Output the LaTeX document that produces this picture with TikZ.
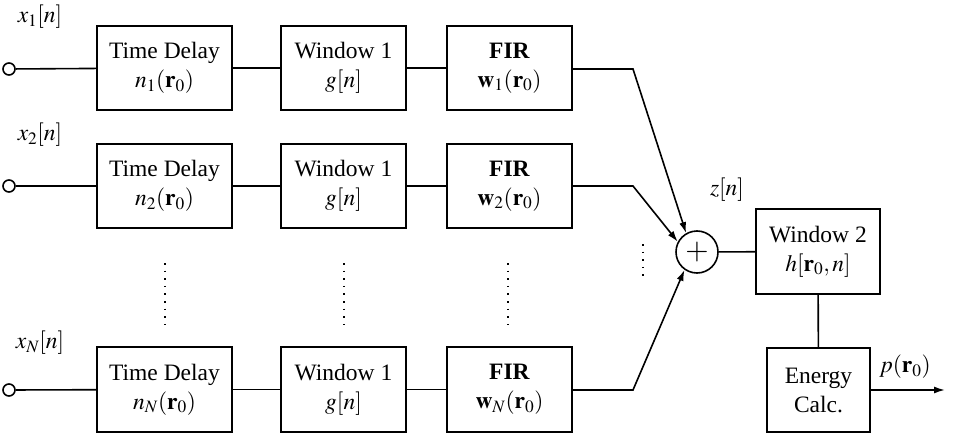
\documentclass[tikz,border=0pt]{standalone}
\usepackage{mathptmx}
\usepackage{fontspec}
\setmainfont{Liberation Serif}
\usetikzlibrary{arrows.meta}
\begin{document}
\begin{tikzpicture}[x=1pt,y=-1pt,
  every node/.style={font=\fontsize{23.5}{27}\selectfont},
  blk/.style={draw,line width=1.6pt,align=center,inner sep=0pt},
  wire/.style={line width=1.6pt},
  arr/.style={line width=1.6pt,-{Latex[length=11pt,width=7pt]}},
  port/.style={circle,draw,line width=1.6pt,minimum size=12pt,inner sep=0pt},
  dots/.style={line width=1.6pt,dash pattern=on 1.6pt off 6pt}]
\useasboundingbox (0,0) rectangle (961,436);
% row 1
\node[port] (i1) at (9,69) {};
\node (l1) at (40,17) {$x_1[n]$};
\node[blk,minimum width=135pt,minimum height=84pt] (d1) at (164.5,68) {Time Delay\\[2pt]$n_1(\mathbf{r}_0)$};
\node[blk,minimum width=125pt,minimum height=84pt] (w1) at (343.5,68) {Window 1\\[2pt]$g[n]$};
\node[blk,minimum width=125pt,minimum height=84pt] (f1) at (509.5,68) {\textbf{FIR}\\[2pt]$\mathbf{w}_1(\mathbf{r}_0)$};
% row 2
\node[port] (i2) at (9,186) {};
\node (l2) at (40,135) {$x_2[n]$};
\node[blk,minimum width=135pt,minimum height=84pt] (d2) at (164.5,186) {Time Delay\\[2pt]$n_2(\mathbf{r}_0)$};
\node[blk,minimum width=125pt,minimum height=84pt] (w2) at (343.5,186) {Window 1\\[2pt]$g[n]$};
\node[blk,minimum width=125pt,minimum height=84pt] (f2) at (509.5,186) {\textbf{FIR}\\[2pt]$\mathbf{w}_2(\mathbf{r}_0)$};
% row N
\node[port] (iN) at (9,390) {};
\node (lN) at (40,343) {$x_N[n]$};
\node[blk,minimum width=135pt,minimum height=85pt] (dN) at (164.5,389.5) {Time Delay\\[2pt]$n_N(\mathbf{r}_0)$};
\node[blk,minimum width=125pt,minimum height=85pt] (wN) at (343.5,389.5) {Window 1\\[2pt]$g[n]$};
\node[blk,minimum width=125pt,minimum height=85pt] (fN) at (509.5,389.5) {\textbf{FIR}\\[2pt]$\mathbf{w}_N(\mathbf{r}_0)$};
% sum and output
\node[circle,draw,line width=1.6pt,minimum size=42pt,inner sep=0pt,font=\fontsize{30}{30}\selectfont] (sum) at (697,252) {$+$};
\node (z) at (727,190) {$z[n]$};
\node[blk,minimum width=124pt,minimum height=85pt] (win2) at (818,251.5) {Window 2\\[2pt]$h[\mathbf{r}_0,n]$};
\node[blk,minimum width=103pt,minimum height=84pt] (en) at (818.5,390) {Energy\\[2pt]Calc.};
\coordinate (out) at (945,390);
\node (p) at (905,367) {$p(\mathbf{r}_0)$};
% wires
\foreach \r in {1,2,N}{
  \draw[wire] (i\r) -- (d\r);
  \draw[wire] (d\r) -- (w\r);
  \draw[wire] (w\r) -- (f\r);
}
\coordinate (b1) at (633,69);
\coordinate (b2) at (633,186);
\coordinate (bN) at (633,390);
\draw[arr] (f1.east |- b1) -- (b1) -- (sum.120);
\draw[arr] (f2.east |- b2) -- (b2) -- (sum.152);
\draw[arr] (fN.east |- bN) -- (bN) -- (sum.235);
\draw[wire] (sum) -- (win2);
\draw[wire] (win2) -- (en);
\draw[arr] (en.east |- out) -- (out);
% dotted continuation marks
\coordinate (t1) at (165,263); \coordinate (t2) at (165,325);
\coordinate (u1) at (344,263); \coordinate (u2) at (344,325);
\coordinate (v1) at (508,263); \coordinate (v2) at (508,325);
\coordinate (s1) at (643,244); \coordinate (s2) at (643,280);
\draw[dots] (t1) -- (t2);
\draw[dots] (u1) -- (u2);
\draw[dots] (v1) -- (v2);
\draw[dots] (s1) -- (s2);
\end{tikzpicture}
\end{document}
